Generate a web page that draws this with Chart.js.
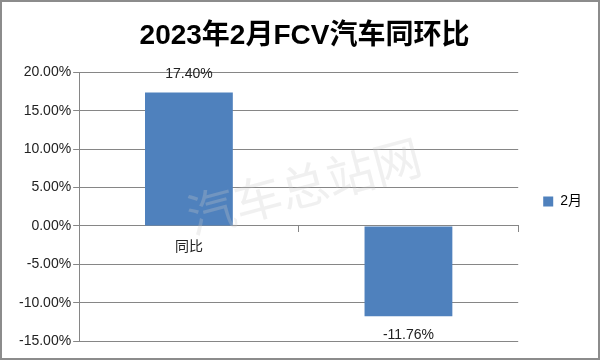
<!DOCTYPE html>
<html><head><meta charset="utf-8">
<script src="https://cdn.jsdelivr.net/npm/chart.js@4"></script>
<style>
html,body{margin:0;padding:0;background:#fff}
#wrap{width:600px;height:360px;box-sizing:border-box;border:2px solid #8c8c8c;position:relative;background:#fff}
</style></head>
<body><div id="wrap"><canvas id="c"></canvas></div>
<script>
const titleText = '2023年2月FCV汽车同环比';
const categories = ['同比', '环比'];
const seriesName = '2月';
const seriesValues = [0.174, -0.1176];
const valueLabels = ['17.40%', '-11.76%'];
const yTickMin = -0.15, yTickMax = 0.20, yTickStep = 0.05;
const watermarkText = '汽车总站网';

const FONT = '"Liberation Sans", "Noto Sans CJK SC", sans-serif';

const dataLabelPlugin = {
  id: 'dataLabels',
  afterDatasetsDraw(chart) {
    const ctx = chart.ctx;
    const meta = chart.getDatasetMeta(0);
    ctx.save();
    ctx.font = '14px ' + FONT;
    ctx.fillStyle = '#222';
    ctx.textAlign = 'center';
    ctx.textBaseline = 'middle';
    meta.data.forEach((bar, i) => {
      const v = seriesValues[i];
      const y = v >= 0 ? bar.y - 18 : bar.y + 19;
      ctx.fillText(valueLabels[i], bar.x, y);
    });
    ctx.restore();
  }
};

const watermarkPlugin = {
  id: 'watermark',
  afterDraw(chart) {
    const ctx = chart.ctx;
    ctx.save();
    ctx.translate(302, 184);
    ctx.rotate(-15 * Math.PI / 180);
    ctx.font = '48px "Noto Sans CJK SC", sans-serif';
    ctx.fillStyle = 'rgba(200,200,200,0.28)';
    ctx.textAlign = 'center';
    ctx.textBaseline = 'middle';
    ctx.fillText(watermarkText, 0, 0);
    ctx.restore();
  }
};

new Chart(document.getElementById('c'), {
  type: 'bar',
  data: {
    labels: categories,
    datasets: [{
      label: seriesName,
      data: seriesValues,
      backgroundColor: '#4F81BD',
      borderWidth: 0,
      categoryPercentage: 1.0,
      barPercentage: 0.4
    }]
  },
  options: {
    responsive: true,
    maintainAspectRatio: false,
    animation: false,
    layout: { padding: { left: 15, right: 6, top: 0, bottom: 17 } },
    plugins: {
      title: {
        display: true,
        text: titleText,
        color: '#000',
        font: { family: FONT, size: 28, weight: 'bold' },
        padding: { top: 17, bottom: 20 }
      },
      legend: {
        display: true,
        position: 'right',
        title: { display: true, text: ' ', font: { size: 14 }, padding: { top: 0, bottom: 43 } },
        labels: {
          boxWidth: 10, boxHeight: 10,
          color: '#000',
          font: { family: FONT, size: 14 },
          padding: 25
        }
      },
      tooltip: { enabled: false }
    },
    scales: {
      x: {
        position: { y: 0 },
        grid: { display: true, drawOnChartArea: false, drawTicks: true, tickLength: 6, color: '#868686', offset: true },
        border: { display: true, color: '#868686', width: 1 },
        ticks: { color: '#222', font: { family: FONT, size: 14 }, padding: 7 }
      },
      y: {
        min: yTickMin, max: yTickMax,
        grid: { color: '#868686', lineWidth: 1, tickLength: 6 },
        border: { display: true, color: '#868686', width: 1 },
        ticks: {
          stepSize: yTickStep,
          color: '#222',
          font: { family: FONT, size: 14 },
          padding: 2,
          callback: v => (v * 100).toFixed(2) + '%'
        }
      }
    }
  },
  plugins: [dataLabelPlugin, watermarkPlugin]
});
</script>
</body></html>
